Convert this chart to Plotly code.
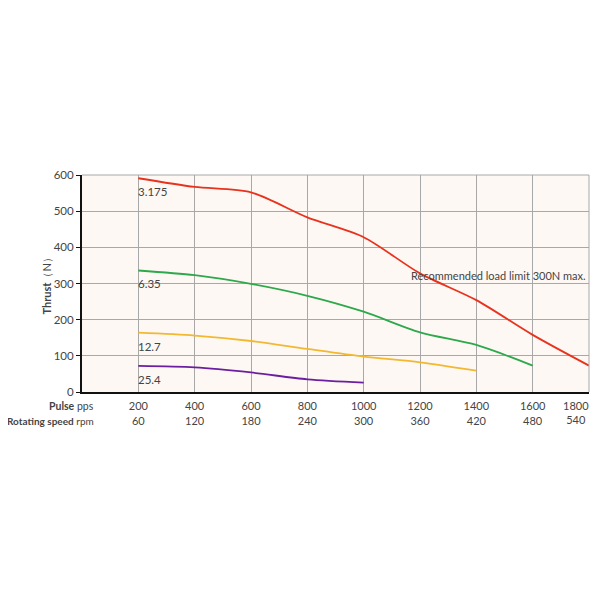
import plotly.graph_objects as go

pulse = [200, 400, 600, 800, 1000, 1200, 1400, 1600, 1800]
rpm = [60, 120, 180, 240, 300, 360, 420, 480, 540]

lead_3175 = [591, 567, 552, 483, 428, 328, 254, 158, 73]
lead_635 = [336, 323, 299, 266, 222, 165, 130, 73]
lead_127 = [164, 156, 141, 119, 98, 82, 59]
lead_254 = [72, 68, 54, 35, 26]

series = [
    ("3.175", lead_3175, "#E8321E"),
    ("6.35", lead_635, "#2DA84B"),
    ("12.7", lead_127, "#F2B930"),
    ("25.4", lead_254, "#6B1FA0"),
]

FONT = "Lato"
TXT = "#444444"

fig = go.Figure()
for name, vals, col in series:
    fig.add_trace(go.Scatter(
        x=pulse[:len(vals)], y=vals, mode="lines", name=name,
        line=dict(color=col, width=1.8, shape="spline", smoothing=0.8),
        showlegend=False, hoverinfo="skip"))
    fig.add_annotation(x=pulse[0], y=vals[0], text=name, showarrow=False,
                       xanchor="left", yanchor="top", yshift=-5, xshift=-2,
                       font=dict(family=FONT, size=11.5, color=TXT))

fig.add_annotation(x=1162, y=321, text="Recommended load limit 300N max.",
                   showarrow=False, xanchor="left", yanchor="middle",
                   font=dict(family=FONT, size=11, color=TXT))

fig.add_annotation(xref="paper", yref="paper", x=0, y=0.5, xshift=-36,
                   xanchor="center", yanchor="middle",
                   text="<b>Thrust</b>（N）", textangle=-90, showarrow=False,
                   font=dict(family=FONT, size=11, color=TXT))
fig.add_annotation(xref="paper", yref="paper", x=0, y=0, xshift=14, yshift=-14,
                   text="<b>Pulse</b> pps", showarrow=False, xanchor="right",
                   yanchor="middle", font=dict(family=FONT, size=10.5, color=TXT))
fig.add_annotation(xref="paper", yref="paper", x=0, y=0, xshift=14, yshift=-29,
                   text="<b>Rotating speed</b> rpm", showarrow=False, xanchor="right",
                   yanchor="middle", font=dict(family=FONT, size=10, color=TXT))

# last tick label kept inside the visible page edge
fig.add_annotation(x=pulse[-1], y=0, text=f"{pulse[-1]}<br>{rpm[-1]}",
                   showarrow=False, xanchor="right", yanchor="top", align="center",
                   xshift=2, yshift=-5, font=dict(family=FONT, size=11, color=TXT))

ticktext = [f"{p}<br>{r}" for p, r in zip(pulse, rpm)]
ticktext[-1] = ""

fig.update_layout(
    width=584, height=584,
    margin=dict(l=74, r=3, t=167, b=200, autoexpand=False),
    paper_bgcolor="white", plot_bgcolor="#FDF8F3",
    font=dict(family=FONT, size=11, color=TXT),
    xaxis=dict(range=[0, 1800], tickvals=pulse, ticktext=ticktext,
               showgrid=True, gridcolor="#A8A8A8", gridwidth=1,
               showline=True, linecolor="#111111", linewidth=2,
               zeroline=False, ticks="", mirror=False, ticklabelstandoff=3,
               tickfont=dict(family=FONT, size=11, color=TXT)),
    yaxis=dict(range=[0, 600], tickvals=[0, 100, 200, 300, 400, 500, 600],
               showgrid=True, gridcolor="#A8A8A8", gridwidth=1,
               showline=True, linecolor="#111111", linewidth=2,
               zeroline=False, ticks="outside", ticklen=4, tickcolor="#111111",
               tickfont=dict(family=FONT, size=11.5, color=TXT)),
    shapes=[dict(type="line", xref="paper", yref="paper", x0=1, x1=1, y0=0, y1=1,
                 line=dict(color="#A8A8A8", width=1)),
            dict(type="line", xref="paper", yref="paper", x0=0, x1=1, y0=1, y1=1,
                 line=dict(color="#A8A8A8", width=1))],
)

fig.write_html("out.html")
